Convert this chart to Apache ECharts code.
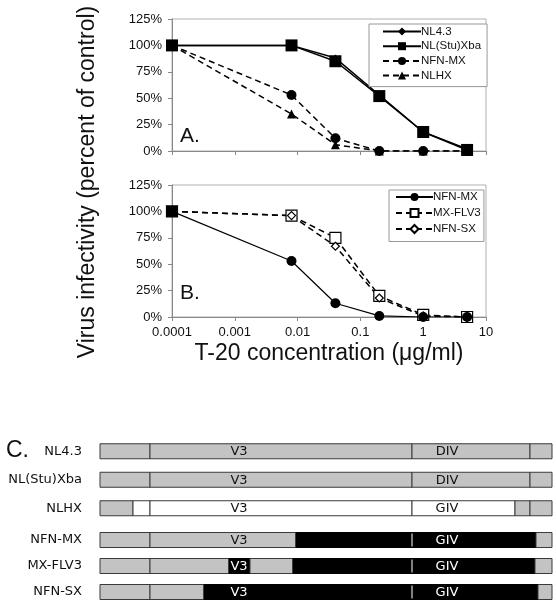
<!DOCTYPE html>
<html><head><meta charset="utf-8">
<script src="https://cdn.jsdelivr.net/npm/echarts@6/dist/echarts.min.js"></script>
<style>html,body{margin:0;padding:0;background:#fff}#c{width:556px;height:605px}</style>
</head><body><div id="c"></div>
<script>
// ---- Data ----
const conc = [0.0001, 0.008, 0.04, 0.2, 1, 5];
const xTickLabels = ['0.0001', '0.001', '0.01', '0.1', '1', '10'];
// Panel A
const aNL43 = [100, 100, 88, 53, 18, 2];
const aNLStuXba = [100, 100, 85, 52, 18, 1];
const aNFNMX = [100, 53, 12, 0, 0, 0];
const aNLHX = [100, 35, 6, 0, 0, 0];
// Panel B
const bNFNMX = [100, 53, 13, 1, 0, 0];
const bMXFLV3 = [100, 96, 75, 20, 2, 0];
const bNFNSX = [100, 96, 67, 18, 1, 0];
// Panel C: constructs, segments [start, end, origin] (g = NL4.3, w = HXB2, b = other)
const constructs = ['NL4.3', 'NL(Stu)Xba', 'NLHX', 'NFN-MX', 'MX-FLV3', 'NFN-SX'];
const segNL43 = [[0, 50, 'g'], [50, 312, 'g'], [312, 430, 'g'], [430, 452, 'g']];
const segNLStuXba = [[0, 50, 'g'], [50, 312, 'g'], [312, 430, 'g'], [430, 452, 'g']];
const segNLHX = [[0, 33, 'g'], [33, 50, 'w'], [50, 312, 'w'], [312, 415, 'w'], [415, 430, 'g'], [430, 452, 'g']];
const segNFNMX = [[0, 50, 'g'], [50, 196, 'g'], [196, 312, 'b'], [312, 436, 'b'], [436, 452, 'g']];
const segMXFLV3 = [[0, 50, 'g'], [50, 129, 'g'], [129, 150, 'b'], [150, 193, 'g'], [193, 312, 'b'], [312, 435, 'b'], [435, 452, 'g']];
const segNFNSX = [[0, 50, 'g'], [50, 104, 'g'], [104, 312, 'b'], [312, 438, 'b'], [438, 452, 'g']];
const regionLabels = [['V3', 'DIV'], ['V3', 'DIV'], ['V3', 'GIV'], ['V3', 'GIV'], ['V3', 'GIV'], ['V3', 'GIV']];
const regionLabelPos = [139, 347];

// ---- Build ----
const allSegs = [segNL43, segNLStuXba, segNLHX, segNFNMX, segMXFLV3, segNFNSX];
const fillOf = { g: '#c3c3c3', w: '#ffffff', b: '#000000' };
function typeAt(row, x) {
  for (const s of allSegs[row]) if (x >= s[0] && x < s[1]) return s[2];
  return 'g';
}
function segData(rowsFrom, rowsTo) {
  const out = [];
  for (let r = rowsFrom; r < rowsTo; r++) {
    const segs = allSegs[r];
    segs.forEach((s, i) => {
      out.push({ value: [r - rowsFrom, s[0], s[1]], t: s[2], prev: i > 0 ? segs[i - 1][2] : null });
    });
  }
  return out;
}
function labelData(rowsFrom, rowsTo) {
  const out = [];
  for (let r = rowsFrom; r < rowsTo; r++) {
    regionLabels[r].forEach((txt, i) => {
      out.push({ value: [r - rowsFrom, regionLabelPos[i]], txt: txt, onBlack: typeAt(r, regionLabelPos[i]) === 'b' });
    });
  }
  return out;
}
function pairs(ys) { return conc.map((x, i) => [x, ys[i]]); }

const FONT = 'Liberation Sans';
const BAR_H = 15;

function segRender(dataArr) {
  return function (params, api) {
    const d = dataArr[params.dataIndex];
    const row = d.value[0];
    const a = api.coord([d.value[1], row]);
    const b = api.coord([d.value[2], row]);
    const children = [{
      type: 'rect',
      shape: { x: a[0], y: a[1] - BAR_H / 2, width: b[0] - a[0], height: BAR_H },
      style: { fill: fillOf[d.t], stroke: d.t === 'b' ? '#000' : '#3a3a3a', lineWidth: 1 }
    }];
    if (d.t === 'b' && d.prev === 'b') {
      children.push({
        type: 'line',
        shape: { x1: a[0], y1: a[1] - BAR_H / 2 + 1, x2: a[0], y2: a[1] + BAR_H / 2 - 1 },
        style: { stroke: '#fff', lineWidth: 1 }
      });
    }
    return { type: 'group', children: children };
  };
}
function labRender(dataArr) {
  return function (params, api) {
    const d = dataArr[params.dataIndex];
    const p = api.coord([d.value[1], d.value[0]]);
    return {
      type: 'text',
      style: {
        x: p[0], y: p[1] + 0.5, text: d.txt, align: 'center', verticalAlign: 'middle',
        fill: d.onBlack ? '#fff' : '#111', font: '13px "DejaVu Sans"'
      }
    };
  };
}

const segTop = segData(0, 3), segBot = segData(3, 6);
const labTop = labelData(0, 3), labBot = labelData(3, 6);

const lineGrid = (top) => ({ left: 172, right: 70, top: top, height: 132, show: true, borderColor: '#b0b0b0', borderWidth: 1, backgroundColor: 'transparent' });

function xLog(gridIndex, showLabels) {
  return {
    type: 'log', logBase: 10, min: 0.0001, max: 10, gridIndex: gridIndex, splitNumber: 5,
    axisLine: { lineStyle: { color: '#888', width: 1 } },
    axisTick: { show: true, length: 4, lineStyle: { color: '#888' } },
    splitLine: { show: false }, minorTick: { show: false },
    axisLabel: {
      show: showLabels, margin: 9, color: '#111', fontFamily: FONT, fontSize: 13,
      formatter: v => xTickLabels[Math.round(Math.log10(v)) + 4]
    }
  };
}
function yPct(gridIndex) {
  return {
    type: 'value', min: 0, max: 125, interval: 25, gridIndex: gridIndex,
    axisLine: { show: true, lineStyle: { color: '#888', width: 1 } },
    axisTick: { show: true, length: 4, lineStyle: { color: '#888' } },
    splitLine: { show: false },
    axisLabel: { margin: 10, color: '#111', fontFamily: FONT, fontSize: 13, formatter: '{value}%' }
  };
}

const solid = { color: '#000', width: 1.5, type: 'solid' };
const dashed = { color: '#000', width: 1.5, type: [6, 4] };
const legendText = { fontFamily: FONT, fontSize: 11.5, lineHeight: 11, color: '#111', padding: [0, 0, 0, -5] };

const option = {
  animation: false,
  backgroundColor: '#fff',
  grid: [
    lineGrid(19),
    lineGrid(185),
    { left: 100, right: 4, top: 437, height: 85.5 },
    { left: 100, right: 4, top: 527, height: 79.5 }
  ],
  xAxis: [
    xLog(0, false),
    xLog(1, true),
    { type: 'value', min: 0, max: 452, gridIndex: 2, show: false },
    { type: 'value', min: 0, max: 452, gridIndex: 3, show: false }
  ],
  yAxis: [
    yPct(0), yPct(1),
    { type: 'category', gridIndex: 2, inverse: true, data: constructs.slice(0, 3),
      axisLine: { show: false }, axisTick: { show: false },
      axisLabel: { margin: 18, color: '#111', fontFamily: 'DejaVu Sans', fontSize: 13 } },
    { type: 'category', gridIndex: 3, inverse: true, data: constructs.slice(3, 6),
      axisLine: { show: false }, axisTick: { show: false },
      axisLabel: { margin: 18, color: '#111', fontFamily: 'DejaVu Sans', fontSize: 13 } }
  ],
  legend: [
    {
      data: ['NL4.3', 'NL(Stu)Xba', 'NFN-MX', 'NLHX'],
      orient: 'vertical', left: 369, top: 24,
      itemWidth: 38, itemHeight: 10, itemGap: 2.7,
      padding: [1.5, 6, 5, 13],
      borderColor: '#999', borderWidth: 1, backgroundColor: '#fff',
      textStyle: legendText,
      selectedMode: false
    },
    {
      data: ['NFN-MX ', 'MX-FLV3', 'NFN-SX'],
      orient: 'vertical', left: 389, top: 190,
      itemWidth: 37, itemHeight: 10, itemGap: 4,
      padding: [1, 3, 6.5, 6],
      borderColor: '#999', borderWidth: 1, backgroundColor: '#fff',
      textStyle: legendText,
      selectedMode: false
    }
  ],
  series: [
    { name: 'NL4.3', type: 'line', xAxisIndex: 0, yAxisIndex: 0, data: pairs(aNL43),
      symbol: 'diamond', symbolSize: 7, lineStyle: solid, itemStyle: { color: '#000' }, z: 3 },
    { name: 'NL(Stu)Xba', type: 'line', xAxisIndex: 0, yAxisIndex: 0, data: pairs(aNLStuXba),
      symbol: 'rect', symbolSize: 12, lineStyle: solid, itemStyle: { color: '#000' }, z: 2 },
    { name: 'NFN-MX', type: 'line', xAxisIndex: 0, yAxisIndex: 0, data: pairs(aNFNMX),
      symbol: 'circle', symbolSize: 10, lineStyle: dashed, itemStyle: { color: '#000' }, z: 4 },
    { name: 'NLHX', type: 'line', xAxisIndex: 0, yAxisIndex: 0, data: pairs(aNLHX),
      symbol: 'triangle', symbolSize: 9, lineStyle: dashed, itemStyle: { color: '#000' }, z: 3 },

    { name: 'NFN-MX ', type: 'line', xAxisIndex: 1, yAxisIndex: 1, data: pairs(bNFNMX),
      symbol: 'circle', symbolSize: 10, lineStyle: { color: '#000', width: 1.2 }, itemStyle: { color: '#000' }, z: 4 },
    { name: 'MX-FLV3', type: 'line', xAxisIndex: 1, yAxisIndex: 1,
      data: pairs(bMXFLV3).map((p, i) => i === 0 ? { value: p, itemStyle: { color: '#000' } } : p),
      symbol: 'rect', symbolSize: 11, lineStyle: dashed,
      itemStyle: { color: '#fff', borderColor: '#000', borderWidth: 1.2 }, z: 3 },
    { name: 'NFN-SX', type: 'line', xAxisIndex: 1, yAxisIndex: 1, data: pairs(bNFNSX),
      symbol: 'diamond', symbolSize: 8, lineStyle: dashed,
      itemStyle: { color: '#fff', borderColor: '#000', borderWidth: 1.2 }, z: 3 },

    { type: 'custom', xAxisIndex: 2, yAxisIndex: 2, data: segTop, renderItem: segRender(segTop), z: 2 },
    { type: 'custom', xAxisIndex: 2, yAxisIndex: 2, data: labTop, renderItem: labRender(labTop), z: 5 },
    { type: 'custom', xAxisIndex: 3, yAxisIndex: 3, data: segBot, renderItem: segRender(segBot), z: 2 },
    { type: 'custom', xAxisIndex: 3, yAxisIndex: 3, data: labBot, renderItem: labRender(labBot), z: 5 }
  ],
  graphic: [
    { type: 'text', left: 180, top: 126, style: { text: 'A.', font: '21px "Liberation Sans"', fill: '#111' } },
    { type: 'text', left: 180, top: 283, style: { text: 'B.', font: '21px "Liberation Sans"', fill: '#111' } },
    { type: 'text', left: 6, top: 439, style: { text: 'C.', font: '23px "Liberation Sans"', fill: '#111' } },
    { type: 'text', x: 88, y: 182, rotation: Math.PI / 2,
      style: { text: 'Virus infectivity (percent of control)', font: '23px "Liberation Sans"', fill: '#111', align: 'center', verticalAlign: 'middle' } },
    { type: 'text', x: 329, y: 354,
      style: { text: 'T-20 concentration (\u03bcg/ml)', font: '23px "Liberation Sans"', fill: '#111', align: 'center', verticalAlign: 'middle' } }
  ]
};

const chart = echarts.init(document.getElementById('c'), null, { renderer: 'canvas' });
chart.setOption(option);
</script></body></html>
